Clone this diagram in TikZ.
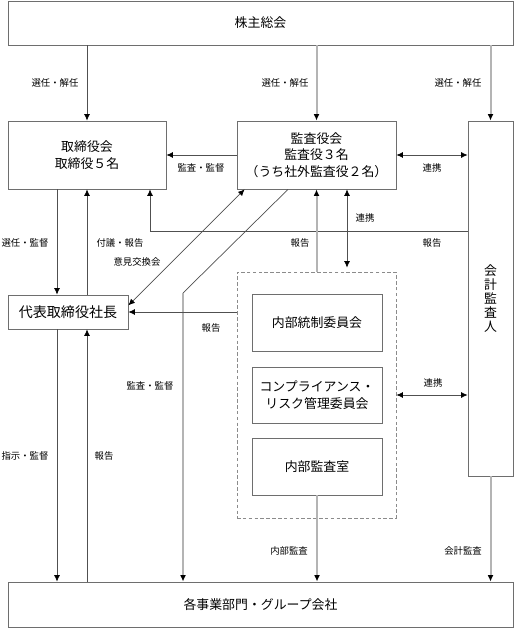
\documentclass[tikz,border=0pt]{standalone}
\usepackage{fontspec}
\setmainfont{Noto Sans CJK JP}
\usetikzlibrary{arrows.meta}
\usetikzlibrary{positioning}
\definecolor{boxgray}{HTML}{6E6E6E}
\definecolor{linegray}{HTML}{505050}
\definecolor{paleline}{HTML}{B4B4B4}
\tikzset{
    box/.style={
        rectangle,
        draw=boxgray,
        line width=0.7pt,
        inner sep=0pt,
        align=center,
        font=\fontsize{11}{14}\selectfont
    },
    arrow/.style={
        -{Latex[length=5.5pt,width=5pt,color=black]},
        line width=0.6pt,
        draw=linegray
    },
    dblarrow/.style={
        arrow,
        {Latex[length=5.5pt,width=5pt,color=black]}-{Latex[length=5.5pt,width=5pt,color=black]}
    },
    lightarrow/.style={
        arrow,
        line width=1.7pt,
        draw=paleline
    },
    lbl/.style={inner sep=0pt, font=\fontsize{8}{10}\selectfont}
}

\begin{document}
\begin{tikzpicture}[x=0.03cm, y=-0.03cm]
        \useasboundingbox (0,0) rectangle (514,628);

        % Boxes
        \node (sokai) [box, minimum width=15.15cm, minimum height=1.32cm] at (260.5,23) {株主総会};
        \node (board) [box, minimum width=4.74cm, minimum height=2.04cm] at (87,155) {取締役会\\取締役５名};
        \node (audit) [box, minimum width=4.77cm, minimum height=2.04cm] at (316.5,155) {監査役会\\監査役３名\\（うち社外監査役２名）};
        \node (kaikei) [box, minimum width=1.35cm, minimum height=10.65cm, font=\fontsize{11}{12}\selectfont] at (490.5,298.5) {会\\計\\監\\査\\人};
        \node (shacho) [box, minimum width=3.6cm, minimum height=1.02cm, font=\fontsize{12}{14}\selectfont] at (68,312) {代表取締役社長};

        % Internal control group
        \node (naibu) [box, dashed, dash pattern=on 3pt off 2pt, draw=boxgray!80, minimum width=4.77cm, minimum height=7.38cm] at (316.5,395) {};
        \node (tosei) [box, minimum width=3.9cm, minimum height=1.71cm] at (317,322.5) {内部統制委員会};
        \node (risk) [box, minimum width=3.9cm, minimum height=1.68cm] at (317,395) {コンプライアンス・\\リスク管理委員会};
        \node (kansa) [box, minimum width=3.9cm, minimum height=1.71cm] at (317,466.5) {内部監査室};

        \node (jigyo) [box, minimum width=15.15cm, minimum height=1.35cm] at (260.5,604.5) {各事業部門・グループ会社};

        % Helper points
        \coordinate (colA) at (57,0);
        \coordinate (colB) at (87,0);
        \coordinate (colE) at (347,0);
        \coordinate (kink) at (183,293);
        \coordinate (rep) at (150,231);

        % Labels
        \node (l_sen1) [lbl] at (55,83) {選任・解任};
        \node (l_sen2) [lbl] at (285,83) {選任・解任};
        \node (l_sen3) [lbl] at (458,83) {選任・解任};
        \node (l_kan1) [lbl] at (201,168) {監査・監督};
        \node (l_ren1) [lbl] at (432,168) {連携};
        \node (l_ren2) [lbl] at (365,218) {連携};
        \node (l_hou1) [lbl] at (300,243) {報告};
        \node (l_hou2) [lbl] at (432,243) {報告};
        \node (l_senk) [lbl] at (25,243) {選任・監督};
        \node (l_fugi) [lbl] at (120,243) {付議・報告};
        \node (l_iken) [lbl] at (137,262) {意見交換会};
        \node (l_hou3) [lbl] at (211,328) {報告};
        \node (l_kan2) [lbl] at (150,386) {監査・監督};
        \node (l_ren3) [lbl] at (433,383) {連携};
        \node (l_shij) [lbl] at (25,456) {指示・監督};
        \node (l_hou4) [lbl] at (104,456) {報告};
        \node (l_nai) [lbl] at (289,551) {内部監査};
        \node (l_kai) [lbl] at (463,551) {会計監査};

        % Arrows
        \draw [arrow] (sokai.south -| board.north) -- (board.north);
        \draw [lightarrow] (sokai.south -| audit.north) -- (audit.north);
        \draw [lightarrow] (sokai.south -| kaikei.north) -- (kaikei.north);

        \draw [arrow] (audit.west) -- (board.east);
        \draw [dblarrow] (audit.east) -- (audit.east -| kaikei.west);
        \draw [arrow] (kaikei.west |- rep) -- (rep) -- (rep |- board.south);

        \draw [arrow] (board.south -| colA) -- (shacho.north -| colA);
        \draw [arrow] (shacho.north -| colB) -- (board.south -| colB);
        \draw [dblarrow] ([xshift=0.24cm]audit.south west) -- ([yshift=0.2cm]shacho.east);
        \draw [linegray, line width=0.6pt] ([xshift=-0.855cm]audit.south) -- (kink);
        \draw [lightarrow] (kink) -- (jigyo.north -| kink);

        \draw [lightarrow] (naibu.north) -- (audit.south);
        \draw [dblarrow] (audit.south -| colE) -- ([yshift=0.12cm]naibu.north -| colE);
        \draw [arrow] (naibu.west |- shacho.east) -- (shacho.east);
        \draw [dblarrow] (naibu.east) -- (naibu.east -| kaikei.west);

        \draw [arrow] (shacho.south -| colA) -- (jigyo.north -| colA);
        \draw [arrow] (jigyo.north -| colB) -- (shacho.south -| colB);
        \draw [lightarrow] (kansa.south) -- (jigyo.north -| kansa.south);
        \draw [lightarrow] (kaikei.south) -- (jigyo.north -| kaikei.south);

    \end{tikzpicture}
\end{document}
